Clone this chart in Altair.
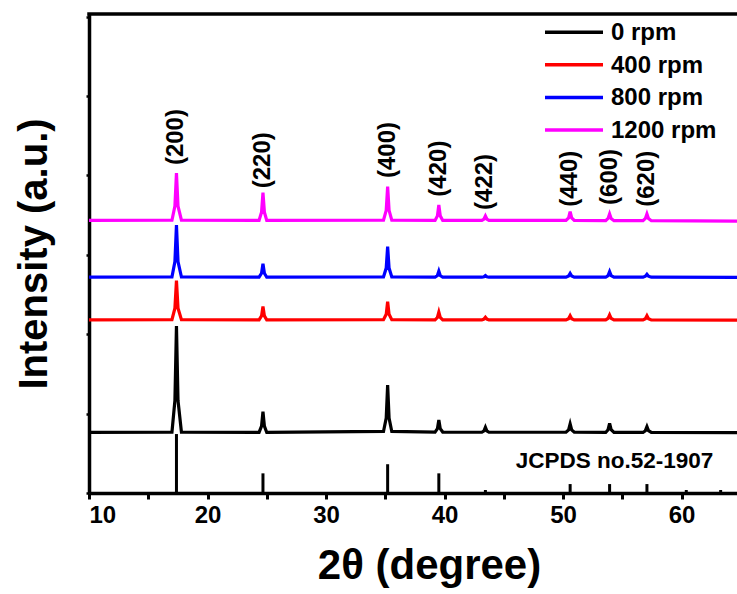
import altair as alt
import pandas as pd

FONT = "Liberation Sans"

# 2theta sampling points (degree)
two_theta = [10.0,
             17.0, 17.25, 17.38, 17.51, 17.8,
             24.35, 24.56, 24.68, 24.8, 25.0,
             34.85, 35.08, 35.2, 35.32, 35.55,
             39.2, 39.4, 39.52, 39.64, 39.85,
             43.15, 43.33, 43.45, 43.57, 43.75,
             50.25, 50.47, 50.6, 50.73, 50.95,
             53.6, 53.8, 53.93, 54.06, 54.3,
             56.75, 56.95, 57.08, 57.21, 57.45,
             64.68]

# intensities (a.u., stacked offsets)
rpm_0 = [3.05,
         3.06, 4.66, 8.41, 4.66, 3.06,
         3.05, 3.37, 4.10, 3.37, 3.05,
         3.10, 3.77, 5.44, 3.77, 3.10,
         3.07, 3.24, 3.68, 3.24, 3.07,
         3.06, 3.13, 3.31, 3.13, 3.06,
         3.06, 3.18, 3.48, 3.18, 3.06,
         3.05, 3.19, 3.51, 3.19, 3.05,
         3.05, 3.14, 3.34, 3.14, 3.05,
         3.04]
rpm_400 = [8.72,
           8.73, 9.31, 10.70, 9.31, 8.73,
           8.72, 8.92, 9.39, 8.92, 8.72,
           8.73, 9.00, 9.64, 9.00, 8.73,
           8.72, 8.84, 9.11, 8.84, 8.72,
           8.72, 8.76, 8.85, 8.76, 8.72,
           8.72, 8.78, 8.93, 8.78, 8.72,
           8.72, 8.80, 8.97, 8.80, 8.72,
           8.72, 8.78, 8.93, 8.78, 8.72,
           8.71]
rpm_800 = [10.87,
           10.88, 11.66, 13.50, 11.66, 10.88,
           10.87, 11.07, 11.55, 11.07, 10.87,
           10.88, 11.33, 12.41, 11.33, 10.88,
           10.87, 10.96, 11.18, 10.96, 10.87,
           10.87, 10.89, 10.95, 10.89, 10.87,
           10.87, 10.93, 11.06, 10.93, 10.87,
           10.87, 10.95, 11.15, 10.95, 10.87,
           10.87, 10.92, 11.02, 10.92, 10.87,
           10.86]
rpm_1200 = [13.73,
            13.74, 14.45, 16.12, 14.45, 13.74,
            13.73, 14.15, 15.13, 14.15, 13.73,
            13.74, 14.24, 15.43, 14.24, 13.74,
            13.73, 13.96, 14.51, 13.96, 13.73,
            13.73, 13.80, 13.95, 13.80, 13.73,
            13.73, 13.86, 14.17, 13.86, 13.73,
            13.72, 13.83, 14.06, 13.83, 13.72,
            13.72, 13.83, 14.06, 13.83, 13.72,
            13.70]

series_names = ["0 rpm", "400 rpm", "800 rpm", "1200 rpm"]
series_colors = ["#000000", "#ff0000", "#0000ff", "#ff00ff"]

# JCPDS no.52-1907 reference sticks
stick_pos = [17.38, 24.68, 35.2, 39.52, 43.45, 50.6, 53.93, 57.08, 60.4, 63.3]
stick_h = [2.97, 0.99, 1.45, 0.99, 0.15, 0.45, 0.45, 0.45, 0.15, 0.15]

# Miller indices labels
hkl = ["(200)", "(220)", "(400)", "(420)", "(422)", "(440)", "(600)", "(620)"]
hkl_pos = [17.38, 24.68, 35.2, 39.52, 43.45, 50.6, 53.93, 57.08]
hkl_y = [16.52, 15.35, 15.87, 14.93, 14.26, 14.42, 14.51, 14.42]

ref_label = ["JCPDS no.52-1907"]
ref_label_x = [46.0]
ref_label_y = [1.26]

x_ticks = [10, 15, 20, 25, 30, 35, 40, 45, 50, 55, 60]
y_ticks = list(range(0, 25))

rows = []
for name, ys in zip(series_names, [rpm_0, rpm_400, rpm_800, rpm_1200]):
    for i, (t, v) in enumerate(zip(two_theta, ys)):
        rows.append({"two_theta": t, "intensity": v, "sample": name, "i": i})
df = pd.DataFrame(rows)

sticks = pd.DataFrame({"pos": stick_pos, "h": stick_h, "z": [0] * len(stick_pos)})
labels = pd.DataFrame({"pos": hkl_pos, "y": hkl_y, "t": hkl})
ref = pd.DataFrame({"x": ref_label_x, "y": ref_label_y, "t": ref_label})
legend_df = pd.DataFrame({"sample": series_names, "row": list(range(len(series_names)))})

xs = alt.Scale(domain=[10, 64.68], nice=False, zero=False)
ys_ = alt.Scale(domain=[0, 24.13], nice=False, zero=False)
cs = alt.Scale(domain=series_names, range=series_colors)

x_axis = alt.Axis(
    values=x_ticks, title="2θ (degree)",
    labelExpr="datum.value % 10 == 0 ? datum.label : ''",
    tickSize=6, tickWidth=3, domainWidth=3.5, domainColor="black", tickColor="black",
    labelFont=FONT, labelFontSize=24, labelFontWeight="bold", labelColor="black",
    labelPadding=4, grid=False,
    titleFont=FONT, titleFontSize=42, titleFontWeight="bold", titleColor="black",
    titlePadding=18, titleX=340, titleAlign="center",
)
y_axis = alt.Axis(
    values=y_ticks, labels=False, title="Intensity (a.u.)",
    tickSize=3, tickWidth=2.5, domainWidth=3.5, domainColor="black", tickColor="black",
    grid=False,
    titleFont=FONT, titleFontSize=40, titleFontWeight="bold", titleColor="black",
    titlePadding=30,
)

lines = alt.Chart(df).mark_line(strokeWidth=3.2).encode(
    x=alt.X("two_theta:Q", scale=xs, axis=x_axis),
    y=alt.Y("intensity:Q", scale=ys_, axis=y_axis),
    color=alt.Color("sample:N", scale=cs, legend=None),
    detail="sample:N",
    order="i:Q",
)

stick_chart = alt.Chart(sticks).mark_rule(strokeWidth=3, color="black").encode(
    x=alt.X("pos:Q", scale=xs),
    y=alt.Y("z:Q", scale=ys_),
    y2="h:Q",
)

label_chart = alt.Chart(labels).mark_text(
    angle=270, align="left", baseline="middle", font=FONT,
    fontSize=24, fontWeight="bold", color="black",
).encode(
    x=alt.X("pos:Q", scale=xs),
    y=alt.Y("y:Q", scale=ys_),
    text="t:N",
)

ref_chart = alt.Chart(ref).mark_text(
    align="left", baseline="alphabetic", font=FONT,
    fontSize=22.5, fontWeight="bold", color="black",
).encode(
    x=alt.X("x:Q", scale=xs),
    y=alt.Y("y:Q", scale=ys_),
    text="t:N",
)

top_border = alt.Chart(pd.DataFrame({"a": [0]})).mark_rule(
    strokeWidth=3.5, color="black"
).encode(x=alt.value(-1.75), x2=alt.value(648), y=alt.value(0))

main = alt.layer(stick_chart, lines, label_chart, ref_chart, top_border)

# legend drawn as its own layer (row positions through an independent y scale)
leg_y = alt.Y("row:Q", scale=alt.Scale(domain=[0, 3], range=[18.3, 116]), axis=None)
legend_lines = alt.Chart(legend_df).mark_rule(strokeWidth=3.5).encode(
    x=alt.value(456), x2=alt.value(514), y=leg_y,
    color=alt.Color("sample:N", scale=cs, legend=None),
)
legend_text = alt.Chart(legend_df).mark_text(
    align="left", baseline="middle", font=FONT, fontSize=24,
    fontWeight="bold", color="black", dy=1,
).encode(x=alt.value(522), y=leg_y, text="sample:N")
legend_layer = alt.layer(legend_lines, legend_text)

chart = alt.layer(main, legend_layer).resolve_scale(y="independent").properties(
    width=648, height=479,
    autosize=alt.AutoSizeParams(type="none"),
    padding={"left": 89, "top": 14, "right": 0, "bottom": 101},
).configure_view(stroke=None).configure(background="white")

chart.save("out.html", embed_options={"renderer": "svg", "actions": False})
